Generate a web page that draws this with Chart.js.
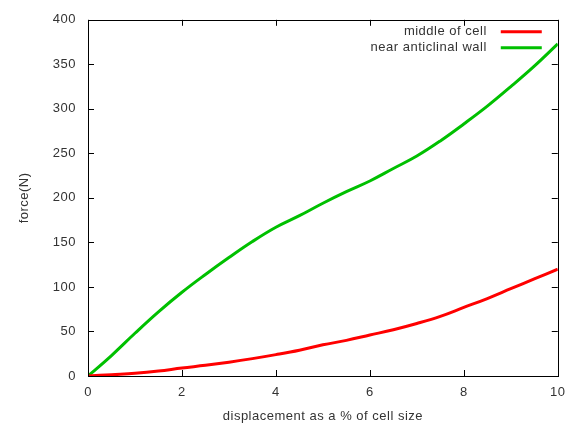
<!DOCTYPE html>
<html>
<head>
<meta charset="utf-8">
<script src="https://cdn.jsdelivr.net/npm/chart.js@4/dist/chart.umd.min.js"></script>
<style>
html,body{margin:0;padding:0;background:#fff;}
#wrap{width:574px;height:425px;position:relative;}
</style>
</head>
<body>
<div id="wrap"><canvas id="c" width="574" height="425"></canvas></div>
<script>
const displacement = [0,0.5,1,1.5,2,2.5,3,3.5,4,4.5,5,5.5,6,6.5,7,7.5,8,8.5,9,9.5,10];
const middleOfCell = [0,1.5,3,5.5,9,12,15.5,19.5,24,29,35,40,46,52,59,67,77,87,98,109,120];
const nearAnticlinalWall = [0,23,48,72,94,114,133,151,167,180,194,207,219,233,247,264,283,303,325,348,373];
const seriesNames = ["middle of cell","near anticlinal wall"];
const xTicks = [0,2,4,6,8,10];
const yTicks = [0,50,100,150,200,250,300,350,400];

const FONT = "'Liberation Sans', Arial, sans-serif";
const TXT = '#333333';
const FS = 13;

const ticksAndBorder = {
  id:'ticksAndBorder',
  beforeDraw(chart){
    chart.ctx.letterSpacing = '0.5px';
  },
  afterDatasetsDraw(chart){
    const ctx = chart.ctx, a = chart.chartArea;
    const xs = chart.scales.x, ys = chart.scales.y;
    ctx.save();
    ctx.strokeStyle = '#000';
    ctx.lineWidth = 1;
    ctx.beginPath();
    xTicks.forEach(v=>{
      const px = Math.round(xs.getPixelForValue(v))+0.5;
      ctx.moveTo(px,a.bottom); ctx.lineTo(px,a.bottom-6);
      ctx.moveTo(px,a.top); ctx.lineTo(px,a.top+6);
    });
    yTicks.forEach(v=>{
      const py = Math.round(ys.getPixelForValue(v))+0.5;
      ctx.moveTo(a.left,py); ctx.lineTo(a.left+6,py);
      ctx.moveTo(a.right,py); ctx.lineTo(a.right-6,py);
    });
    ctx.stroke();
    ctx.strokeRect(Math.round(a.left)+0.5, Math.round(a.top)+0.5, Math.round(a.right-a.left), Math.round(a.bottom-a.top));
    // legend
    ctx.font = FS + 'px ' + FONT;
    ctx.letterSpacing = '0.5px';
    ctx.textAlign = 'right';
    ctx.textBaseline = 'middle';
    chart.data.datasets.forEach((ds,i)=>{
      const y = a.top + 12 + i*16;
      ctx.fillStyle = TXT;
      ctx.fillText(ds.label, a.right - 71, y);
      ctx.strokeStyle = ds.borderColor;
      ctx.lineWidth = 3;
      ctx.beginPath();
      ctx.moveTo(a.right - 57, y); ctx.lineTo(a.right - 16, y);
      ctx.stroke();
    });
    ctx.restore();
  }
};

new Chart(document.getElementById('c'), {
  type:'line',
  data:{
    labels: displacement,
    datasets:[
      {label:seriesNames[0], data:displacement.map((x,i)=>({x, y:middleOfCell[i]})), borderColor:'#ff0000', borderWidth:3, pointRadius:0, tension:0.4, fill:false},
      {label:seriesNames[1], data:displacement.map((x,i)=>({x, y:nearAnticlinalWall[i]})), borderColor:'#00c000', borderWidth:3, pointRadius:0, tension:0.4, fill:false}
    ]
  },
  options:{
    responsive:false,
    animation:false,
    layout:{padding:{top:17,right:15,left:0,bottom:0}},
    plugins:{legend:{display:false}, tooltip:{enabled:false}},
    scales:{
      x:{
        type:'linear', min:0, max:10,
        afterBuildTicks(s){ s.ticks = xTicks.map(v=>({value:v})); },
        afterFit(s){ s.height = 49; },
        grid:{display:false, drawTicks:false},
        border:{display:false},
        ticks:{color:TXT, font:{family:FONT,size:FS}, padding:9, maxRotation:0},
        title:{display:true, text:'displacement as a % of cell size', color:TXT, font:{family:FONT,size:FS}, padding:{top:0,bottom:1}}
      },
      y:{
        type:'linear', min:0, max:400,
        afterBuildTicks(s){ s.ticks = yTicks.map(v=>({value:v})); },
        afterFit(s){ s.width = 88; },
        grid:{display:false, drawTicks:false},
        border:{display:false},
        ticks:{color:TXT, font:{family:FONT,size:FS}, padding:12},
        title:{display:true, text:'force(N)', color:TXT, font:{family:FONT,size:FS}, padding:{top:17,bottom:0}}
      }
    }
  },
  plugins:[ticksAndBorder]
});
</script>
</body>
</html>
